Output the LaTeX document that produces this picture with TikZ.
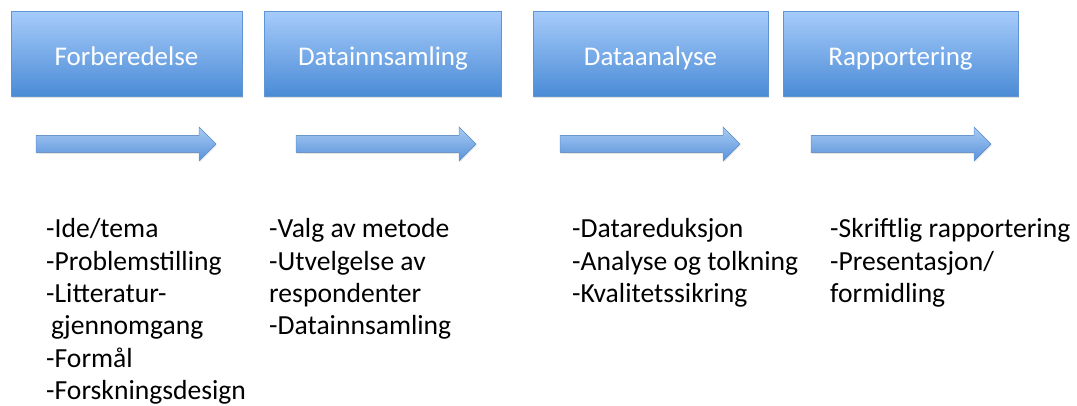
\documentclass[tikz,border=0pt]{standalone}
\usepackage{fontspec}
\setmainfont{Carlito}
\usetikzlibrary{shadows}
\definecolor{boxtop}{HTML}{A6CBFA}
\definecolor{boxbot}{HTML}{4A8BD6}
\definecolor{boxline}{HTML}{6095D4}
\definecolor{piltop}{HTML}{A9CBF4}
\definecolor{pilbot}{HTML}{5892DA}
\tikzset{
  phase/.style={draw=boxline, line width=0.6pt, top color=boxtop, bottom color=boxbot,
                minimum height=85pt, inner sep=0pt, text=white,
                text height=26pt, text depth=2pt,
                font=\fontsize{27}{31}\selectfont,
                drop shadow={opacity=0.25, shadow xshift=0.5pt, shadow yshift=-2pt}},
  items/.style={anchor=north west, align=left, inner sep=0pt,
                font=\fontsize{27.6}{32.3}\selectfont},
  pics/pil/.style={code={
    \fill[top color=piltop, bottom color=pilbot, draw=boxline, line width=0.5pt,
          drop shadow={opacity=0.2, shadow xshift=0.5pt, shadow yshift=-1.5pt}]
      (0,-8.5) -- (163,-8.5) -- (163,-17) -- (180,0) -- (163,17) -- (163,8.5)
      -- (0,8.5) -- cycle;}}
}

\begin{document}
\begin{tikzpicture}[x=1pt, y=-1pt]
  \useasboundingbox (0,0) rectangle (1077,406);
  \node[phase, minimum width=231pt] (forb) at (126.5,54) {Forberedelse};
  \node[phase, minimum width=237pt] (datainn) at (383,54) {Datainnsamling};
  \node[phase, minimum width=235pt] (dataan) at (650.5,54) {Dataanalyse};
  \node[phase, minimum width=235pt] (rapp) at (900.5,54) {Rapportering};
  \pic at (36,144) {pil};
  \pic at (296,144) {pil};
  \pic at (560,144) {pil};
  \pic at (811,144) {pil};
  \node[items] (liste1) at (46,218.5)
    {-Ide/tema\\-Problemstilling\\-Litteratur-\\\hspace*{5pt}gjennomgang\\-Formål\\-Forskningsdesign};
  \node[items] (liste2) at (269,218.5)
    {-Valg av metode\\-Utvelgelse av\\respondenter\\-Datainnsamling};
  \node[items] (liste3) at (572,218.5)
    {-Datareduksjon\\-Analyse og tolkning\\-Kvalitetssikring};
  \node[items] (liste4) at (830,218.5)
    {-Skriftlig rapportering\\-Presentasjon/\\formidling};
\end{tikzpicture}
\end{document}
